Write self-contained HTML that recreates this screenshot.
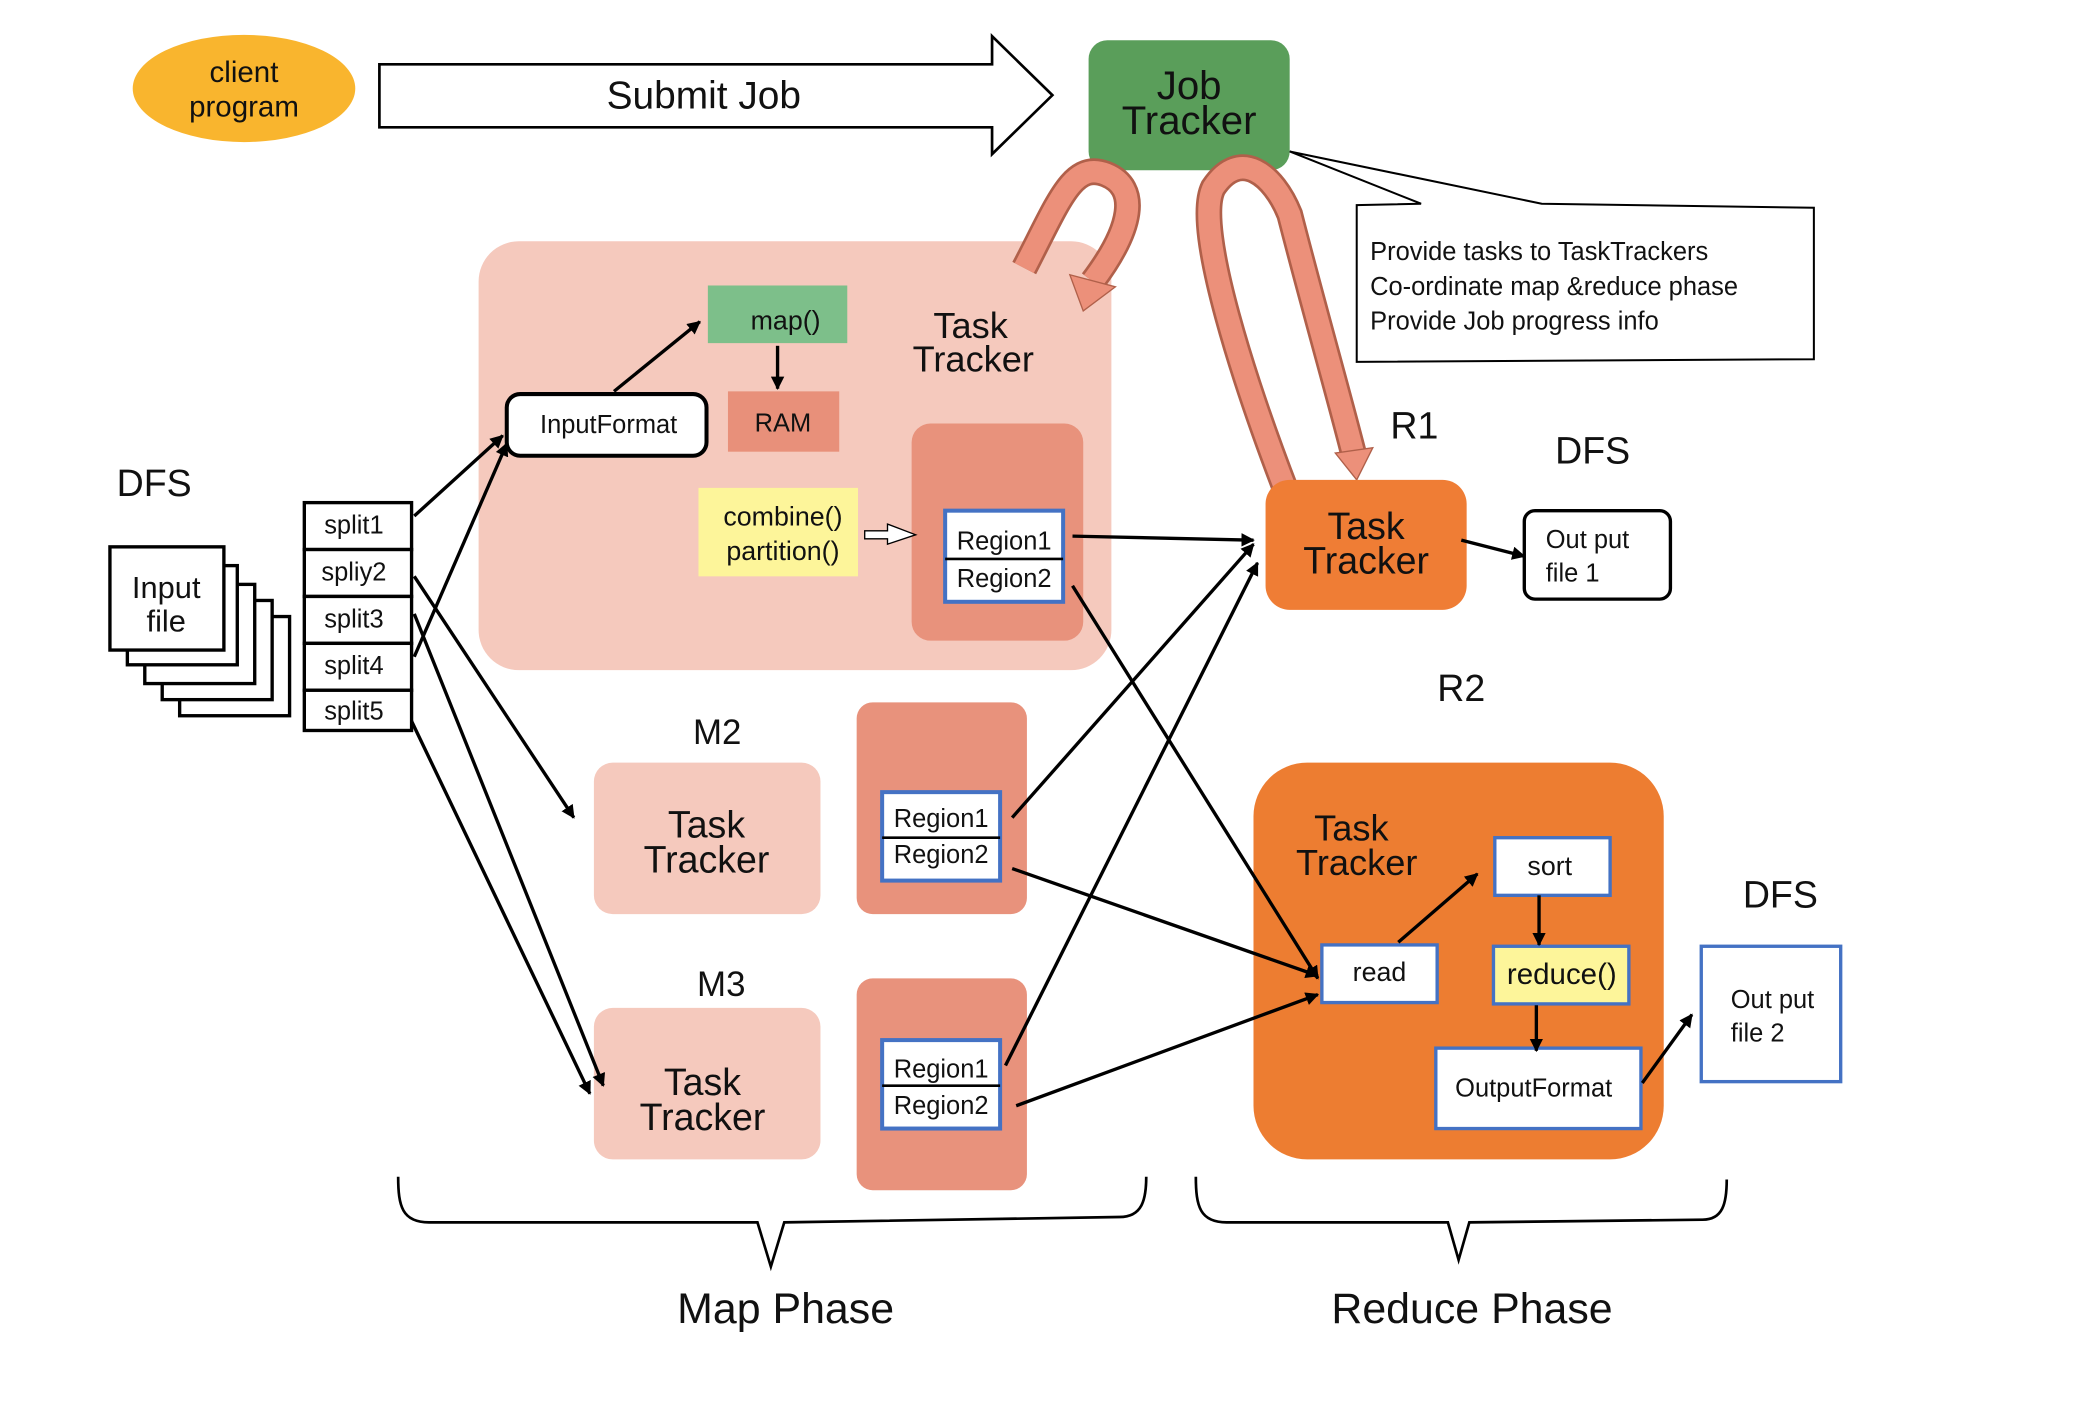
<!DOCTYPE html>
<html><head><meta charset="utf-8"><style>
html,body{margin:0;padding:0;background:#fff;}
svg{display:block;}
text{font-family:"Liberation Sans",sans-serif;fill:#111;}
</style></head><body>
<svg width="2082" height="1406" viewBox="0 0 1553 1049" preserveAspectRatio="none">
<defs>
<marker id="ah" markerWidth="10" markerHeight="10" refX="9" refY="5" orient="auto" markerUnits="userSpaceOnUse" viewBox="0 0 10 10">
<path d="M0,0 L10,5 L0,10 z" fill="#000"/></marker>
</defs>
<rect width="1553" height="1049" fill="#fff"/>

<ellipse cx="182" cy="66" rx="83" ry="40" fill="#f9b52e"/>
<text x="182" y="61" font-size="22" text-anchor="middle">client</text>
<text x="182" y="87" font-size="22" text-anchor="middle">program</text>

<polygon points="283,48 740,48 740,27 785,71 740,115 740,95 283,95" fill="#fff" stroke="#000" stroke-width="2"/>
<text x="525" y="81" font-size="29" text-anchor="middle">Submit Job</text>

<rect x="812" y="30" width="150" height="97" rx="14" fill="#5a9e5a"/>
<text x="887" y="74" font-size="30" text-anchor="middle">Job</text>
<text x="887" y="100" font-size="30" text-anchor="middle">Tracker</text>

<polygon points="962,113 1060,152 1012,153 1012,270 1353,268 1353,155 1150,152 962,113" fill="#fff" stroke="#000" stroke-width="1.5"/>
<text x="1022" y="194" font-size="19">Provide tasks to TaskTrackers</text>
<text x="1022" y="220" font-size="19">Co-ordinate map &amp;reduce phase</text>
<text x="1022" y="246" font-size="19">Provide Job progress info</text>

<!-- M1 region -->
<rect x="357" y="180" width="472" height="320" rx="30" fill="#f5c9bd"/>

<!-- U arrows (on top) -->
<path d="M764,200 C790,150 800,120 825,130 C850,140 845,170 815,210" fill="none" stroke="#b0604a" stroke-width="20"/>
<path d="M764,200 C790,150 800,120 825,130 C850,140 845,170 815,210" fill="none" stroke="#ec907a" stroke-width="16"/>
<polygon points="798,205 832,214 808,232" fill="#ec907a" stroke="#b0604a"/>
<path d="M960,368 C930,290 890,170 905,140 C925,110 950,130 962,160 C980,230 1000,300 1010,340" fill="none" stroke="#b0604a" stroke-width="20"/>
<path d="M960,368 C930,290 890,170 905,140 C925,110 950,130 962,160 C980,230 1000,300 1010,340" fill="none" stroke="#ec907a" stroke-width="16"/>
<polygon points="996,338 1024,334 1012,358" fill="#ec907a" stroke="#b0604a"/>

<rect x="528" y="213" width="104" height="43" fill="#7dbf8a"/>
<text x="586" y="246" font-size="20" text-anchor="middle">map()</text>
<rect x="543" y="292" width="83" height="45" fill="#e8907a"/>
<text x="584" y="322" font-size="19" text-anchor="middle">RAM</text>
<text x="724" y="252" font-size="27" text-anchor="middle">Task</text>
<text x="726" y="277" font-size="27" text-anchor="middle">Tracker</text>
<rect x="378" y="294" width="149" height="46" rx="10" fill="#fff" stroke="#000" stroke-width="3"/>
<text x="454" y="323" font-size="19" text-anchor="middle">InputFormat</text>
<rect x="521" y="364" width="119" height="66" fill="#fdf59a"/>
<text x="584" y="392" font-size="20" text-anchor="middle">combine()</text>
<text x="584" y="418" font-size="20" text-anchor="middle">partition()</text>
<rect x="680" y="316" width="128" height="162" rx="14" fill="#e8927c"/>
<rect x="705" y="381" width="88" height="68" fill="#fff" stroke="#4472c4" stroke-width="3"/>
<line x1="705" y1="417" x2="793" y2="417" stroke="#000" stroke-width="2"/>
<text x="749" y="410" font-size="19" text-anchor="middle">Region1</text>
<text x="749" y="438" font-size="19" text-anchor="middle">Region2</text>
<polygon points="645,396 662,396 662,391 683,399 662,406 662,402 645,402" fill="#fff" stroke="#000"/>

<text x="115" y="370" font-size="28" text-anchor="middle">DFS</text>
<rect x="134" y="460" width="82" height="74" fill="#fff" stroke="#000" stroke-width="2.5"/>
<rect x="121" y="448" width="82" height="74" fill="#fff" stroke="#000" stroke-width="2.5"/>
<rect x="108" y="436" width="82" height="74" fill="#fff" stroke="#000" stroke-width="2.5"/>
<rect x="95" y="422" width="82" height="74" fill="#fff" stroke="#000" stroke-width="2.5"/>
<rect x="82" y="408" width="85" height="77" fill="#fff" stroke="#000" stroke-width="2.5"/>
<text x="124" y="446" font-size="23" text-anchor="middle">Input</text>
<text x="124" y="471" font-size="23" text-anchor="middle">file</text>

<g stroke="#000" stroke-width="2.5" fill="#fff">
<rect x="227" y="375" width="80" height="35"/><rect x="227" y="410" width="80" height="35"/>
<rect x="227" y="445" width="80" height="35"/><rect x="227" y="480" width="80" height="35"/>
<rect x="227" y="515" width="80" height="30"/>
</g>
<g font-size="19" text-anchor="middle">
<text x="264" y="398">split1</text><text x="264" y="433">spliy2</text><text x="264" y="468">split3</text>
<text x="264" y="503">split4</text><text x="264" y="537">split5</text>
</g>

<text x="535" y="555" font-size="26" text-anchor="middle">M2</text>
<rect x="443" y="569" width="169" height="113" rx="14" fill="#f5c9bd"/>
<text x="527" y="625" font-size="28" text-anchor="middle">Task</text>
<text x="527" y="651" font-size="28" text-anchor="middle">Tracker</text>
<rect x="639" y="524" width="127" height="158" rx="12" fill="#e8927c"/>
<rect x="658" y="591" width="88" height="66" fill="#fff" stroke="#4472c4" stroke-width="3"/>
<line x1="658" y1="625" x2="746" y2="625" stroke="#000" stroke-width="2"/>
<text x="702" y="617" font-size="19" text-anchor="middle">Region1</text>
<text x="702" y="644" font-size="19" text-anchor="middle">Region2</text>

<text x="538" y="743" font-size="26" text-anchor="middle">M3</text>
<rect x="443" y="752" width="169" height="113" rx="14" fill="#f5c9bd"/>
<text x="524" y="817" font-size="28" text-anchor="middle">Task</text>
<text x="524" y="843" font-size="28" text-anchor="middle">Tracker</text>
<rect x="639" y="730" width="127" height="158" rx="12" fill="#e8927c"/>
<rect x="658" y="776" width="88" height="66" fill="#fff" stroke="#4472c4" stroke-width="3"/>
<line x1="658" y1="810" x2="746" y2="810" stroke="#000" stroke-width="2"/>
<text x="702" y="804" font-size="19" text-anchor="middle">Region1</text>
<text x="702" y="831" font-size="19" text-anchor="middle">Region2</text>

<text x="1055" y="327" font-size="28" text-anchor="middle">R1</text>
<rect x="944" y="358" width="150" height="97" rx="18" fill="#ef7d35"/>
<text x="1019" y="402" font-size="28" text-anchor="middle">Task</text>
<text x="1019" y="428" font-size="28" text-anchor="middle">Tracker</text>
<text x="1188" y="346" font-size="28" text-anchor="middle">DFS</text>
<rect x="1137" y="381" width="109" height="66" rx="8" fill="#fff" stroke="#000" stroke-width="2.5"/>
<text x="1153" y="409" font-size="19">Out put</text>
<text x="1153" y="434" font-size="19">file 1</text>

<text x="1090" y="523" font-size="28" text-anchor="middle">R2</text>
<rect x="935" y="569" width="306" height="296" rx="40" fill="#ed7d31"/>
<text x="1008" y="627" font-size="27" text-anchor="middle">Task</text>
<text x="1012" y="653" font-size="27" text-anchor="middle">Tracker</text>
<rect x="1115" y="625" width="86" height="43" fill="#fff" stroke="#4472c4" stroke-width="2.5"/>
<text x="1156" y="653" font-size="20" text-anchor="middle">sort</text>
<rect x="986" y="705" width="86" height="43" fill="#fff" stroke="#4472c4" stroke-width="2.5"/>
<text x="1029" y="732" font-size="20" text-anchor="middle">read</text>
<rect x="1114" y="706" width="101" height="43" fill="#fdf59a" stroke="#4472c4" stroke-width="2.5"/>
<text x="1165" y="734" font-size="22" text-anchor="middle">reduce()</text>
<rect x="1071" y="782" width="153" height="60" fill="#fff" stroke="#4472c4" stroke-width="2.5"/>
<text x="1144" y="818" font-size="19" text-anchor="middle">OutputFormat</text>
<text x="1328" y="677" font-size="28" text-anchor="middle">DFS</text>
<rect x="1269" y="706" width="104" height="101" fill="#fff" stroke="#4472c4" stroke-width="2.5"/>
<text x="1291" y="752" font-size="19">Out put</text>
<text x="1291" y="777" font-size="19">file 2</text>

<g stroke="#000" stroke-width="2.5" fill="none" marker-end="url(#ah)">
<line x1="309" y1="385" x2="375" y2="325"/>
<line x1="309" y1="490" x2="378" y2="331"/>
<line x1="458" y1="292" x2="522" y2="240"/>
<line x1="580" y1="258" x2="580" y2="290"/>
<line x1="309" y1="430" x2="428" y2="610"/>
<line x1="309" y1="458" x2="450" y2="810"/>
<line x1="307" y1="538" x2="440" y2="816"/>
<line x1="800" y1="400" x2="935" y2="403"/>
<line x1="800" y1="437" x2="983" y2="730"/>
<line x1="755" y1="610" x2="935" y2="406"/>
<line x1="755" y1="648" x2="983" y2="728"/>
<line x1="750" y1="795" x2="938" y2="420"/>
<line x1="758" y1="825" x2="983" y2="742"/>
<line x1="1090" y1="403" x2="1137" y2="415"/>
<line x1="1043" y1="703" x2="1102" y2="652"/>
<line x1="1148" y1="668" x2="1148" y2="705"/>
<line x1="1146" y1="750" x2="1146" y2="784"/>
<line x1="1225" y1="808" x2="1262" y2="757"/>
</g>

<g stroke="#000" stroke-width="2" fill="none">
<path d="M297,878 C297,900 300,912 320,912 L565,912 L575,945 L585,912 L835,908 C852,908 855,895 855,878"/>
<path d="M892,878 C892,900 895,912 915,912 L1080,912 L1088,940 L1096,912 L1270,910 C1285,910 1288,898 1288,880"/>
</g>
<text x="586" y="987" font-size="32" text-anchor="middle">Map Phase</text>
<text x="1098" y="987" font-size="32" text-anchor="middle">Reduce Phase</text>
</svg>
</body></html>
